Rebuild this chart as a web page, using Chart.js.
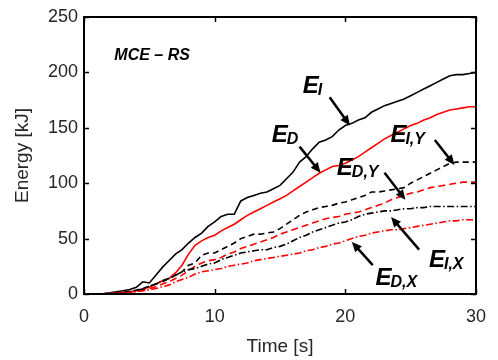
<!DOCTYPE html>
<html><head><meta charset="utf-8">
<script src="https://cdn.jsdelivr.net/npm/chart.js@4.4.0/dist/chart.umd.min.js"></script>
<style>html,body{margin:0;padding:0;background:#fff;} #wrap{width:498px;height:360px;}</style>
</head><body><div id="wrap"><canvas id="c" width="498" height="360"></canvas></div>
<script>
// ---- data (time in s, energy in kJ) ----
const time = [0,0.5,1,1.5,2,2.5,3,3.5,4,4.5,5,5.5,6,6.5,7,7.5,8,8.5,9,9.5,10,10.5,11,11.5,12,12.5,13,13.5,14,14.5,15,15.5,16,16.5,17,17.5,18,18.5,19,19.5,20,20.5,21,21.5,22,22.5,23,23.5,24,24.5,25,25.5,26,26.5,27,27.5,28,28.5,29,29.5,30];
const E_I  = [0,0,0,0.3,1,2,3,4,6,11,10,17,24,30,36,40,46,51,55,61,65,70,72,72,84,87,89,91,92,95,98,104,110,119,124,131,137,139,142,148,152,154,157,159,164,167,170,172,174,176,179,182,185,188,191,194,197,198,198,199,200];
const E_D  = [0,0,0,0.2,0.5,1,1.5,2,3,4.5,6,9,12,14,19,26,36,44,48,51,53,57,60,63,67,71,74,77,80,83,86,89,93,97,101,105,109,112,115,116,118,121,124,128,132,136,140,143,146,149,152,154,157,159,162,164,166,167,168,169,169];
const E_IY = [0,0,0,0.1,0.4,0.8,1.5,2.5,3.5,5,7,9,11,14,17,20,26,28,35,37,37,40,43,46,50,52,54,54,55,56,59,63,67,71,74,76,78,79,80,82,83,85,87,89,92,92,93,94,95,96,100,103,106,109,112,115,118,119,119,119,119];
const E_DY = [0,0,0,0.1,0.3,0.6,1,1.7,2.5,3.5,5,6.5,9,11,14,17,21,25,28,30,31,33,36,38,41,43,45,47,49,51,54,56,58,60,62,64,66,68,69,70,72,73,74,76,78,80,82,85,87,89,91,92,94,96,97,98,99,100,101,101,101];
const E_IX = [0,0,0,0.1,0.3,0.6,1.2,2,3,4.5,7,9,12,14,17,20,22,23,25,27,28,31,33,35,37,38,39,40,40,42,43,45,48,51,53,56,58,60,62,64,65,67,70,72,73,74,75,75,76,77,77,78,78,79,79,79,79,79,79,79,79];
const E_DX = [0,0,0,0.1,0.2,0.5,0.8,1.4,2,2.8,3.8,5,6.5,8,11,13,15,18,20,21,22,23,25,26,27,28,30,31,32,33,34,35,36,37,39,40,42,43,45,46,48,50,52,53,55,56,57,58,58,59,60,61,62,63,64,65,66,66,67,67,67];
const xTicks = [0,10,20,30];
const yTicks = [0,50,100,150,200,250];
const caseLabel = 'MCE \u2013 RS';

// annotation placement (data units)
const notes = [
  {main:'E', sub:'I',   t:16.75, e:181.5, from:[18.8,177.5], to:[20.35,152]},
  {main:'E', sub:'D',   t:14.36, e:137.4, from:[16.5,133],   to:[18.1,109.5]},
  {main:'E', sub:'I,Y', t:23.45, e:137.4, from:[26.85,139],  to:[28.35,116.5]},
  {main:'E', sub:'D,Y', t:19.35, e:107.6, from:[23.0,109.5], to:[24.6,85]},
  {main:'E', sub:'I,X', t:26.4,  e:24.4,  from:[25.65,40],   to:[23.5,69.5]},
  {main:'E', sub:'D,X', t:22.3,  e:8.1,   from:[22.1,26],    to:[20.5,47]}
];

const FONT = '"Liberation Sans", Arial, sans-serif';
const pts = arr => time.map((t,i)=>({x:t, y:arr[i]}));

const overlay = {
  id:'overlay',
  afterDatasetsDraw(chart){
    const {ctx, chartArea:a, scales:{x,y}} = chart;
    ctx.save();
    ctx.strokeStyle = '#000';
    ctx.lineWidth = 2;
    ctx.strokeRect(a.left, a.top, a.right-a.left, a.bottom-a.top);
    ctx.lineWidth = 1.5;
    const seg=(x1,y1,x2,y2)=>{ctx.beginPath();ctx.moveTo(x1,y1);ctx.lineTo(x2,y2);ctx.stroke();};
    xTicks.forEach(v=>{const p=Math.round(x.getPixelForValue(v))+0.5; seg(p,a.bottom,p,a.bottom-5); seg(p,a.top,p,a.top+5);});
    yTicks.forEach(v=>{const p=Math.round(y.getPixelForValue(v))+0.5; seg(a.left,p,a.left+5,p); seg(a.right,p,a.right-5,p);});
    // case label
    ctx.fillStyle = '#000';
    ctx.textBaseline = 'alphabetic';
    ctx.textAlign = 'left';
    ctx.font = 'italic bold 16px ' + FONT;
    ctx.fillText(caseLabel, x.getPixelForValue(2.32), y.getPixelForValue(211));
    // annotations
    notes.forEach(n=>{
      const px = x.getPixelForValue(n.t), py = y.getPixelForValue(n.e);
      ctx.font = 'italic bold 24px ' + FONT;
      ctx.fillText(n.main, px, py);
      const w = ctx.measureText(n.main).width;
      ctx.font = 'italic bold 16px ' + FONT;
      ctx.fillText(n.sub, px + w - 1, py + 2);
      const x1 = x.getPixelForValue(n.from[0]), y1 = y.getPixelForValue(n.from[1]);
      const x2 = x.getPixelForValue(n.to[0]), y2 = y.getPixelForValue(n.to[1]);
      const ang = Math.atan2(y2-y1, x2-x1);
      const L = 10, H = 4.5;
      ctx.lineWidth = 2.5;
      seg(x1, y1, x2 - Math.cos(ang)*L*0.8, y2 - Math.sin(ang)*L*0.8);
      ctx.beginPath();
      ctx.moveTo(x2, y2);
      ctx.lineTo(x2 - Math.cos(ang)*L - Math.sin(ang)*H, y2 - Math.sin(ang)*L + Math.cos(ang)*H);
      ctx.lineTo(x2 - Math.cos(ang)*L + Math.sin(ang)*H, y2 - Math.sin(ang)*L - Math.cos(ang)*H);
      ctx.closePath();
      ctx.fill();
    });
    ctx.restore();
  }
};

const ds = (arr, color, dash, w) => ({data: pts(arr), borderColor: color, borderWidth: w, borderDash: dash, pointRadius: 0, fill: false, tension: 0});

new Chart(document.getElementById('c'), {
  type: 'line',
  data: {
    datasets: [
      ds(E_DX, '#ff0000', [7,2.5,1.5,2.5], 1.6),
      ds(E_IX, '#000000', [7,2.5,1.5,2.5], 1.6),
      ds(E_DY, '#ff0000', [7,4], 1.6),
      ds(E_IY, '#000000', [6,4], 1.6),
      ds(E_D,  '#ff0000', [], 1.6),
      ds(E_I,  '#000000', [], 1.6)
    ]
  },
  options: {
    responsive: false, animation: false, devicePixelRatio: 1,
    layout: {padding: {top: 17, right: 12, left: 0, bottom: 0}},
    plugins: {legend: {display: false}, tooltip: {enabled: false}},
    scales: {
      x: {
        type: 'linear', min: 0, max: 30,
        afterFit(s){ s.height = 66; },
        afterBuildTicks(s){ s.ticks = xTicks.map(v=>({value:v})); },
        grid: {display: false, drawTicks: false},
        border: {display: false},
        ticks: {font: {family: FONT, size: 18}, color: '#262626', padding: 12, maxRotation: 0},
        title: {display: true, text: 'Time [s]', font: {family: FONT, size: 19}, color: '#262626', padding: {top: 0, bottom: 2}}
      },
      y: {
        type: 'linear', min: 0, max: 250,
        afterFit(s){ s.width = 84; },
        afterBuildTicks(s){ s.ticks = yTicks.map(v=>({value:v})); },
        grid: {display: false, drawTicks: false},
        border: {display: false},
        ticks: {font: {family: FONT, size: 18}, color: '#262626', padding: 6},
        title: {display: true, text: 'Energy [kJ]', font: {family: FONT, size: 19}, color: '#262626', padding: {top: 11, bottom: 0}}
      }
    }
  },
  plugins: [overlay]
});
</script>
</body></html>
